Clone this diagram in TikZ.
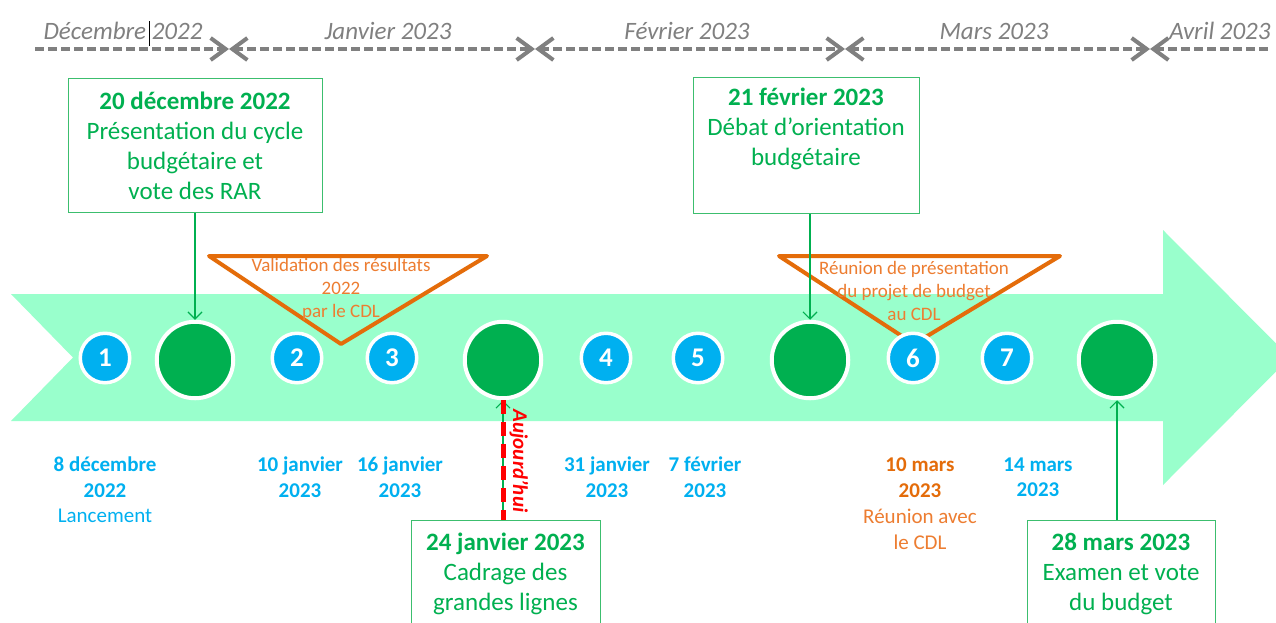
\documentclass[tikz,border=0pt]{standalone}
\usepackage{fontspec}
\setmainfont{Carlito}
\usetikzlibrary{arrows.meta}
\definecolor{mint}{RGB}{153,255,204}
\definecolor{dkgreen}{RGB}{0,176,80}
\definecolor{boxgreen}{RGB}{60,190,110}
\definecolor{skyblue}{RGB}{0,176,240}
\definecolor{orng}{RGB}{228,108,10}
\definecolor{lorng}{RGB}{237,125,49}
\definecolor{gry}{RGB}{128,128,128}
\tikzset{
  month/.style={text=gry, font=\fontsize{25}{30}\selectfont\itshape, inner sep=0pt},
  mseg/.style={draw=gry, line width=4pt, dash pattern=on 9pt off 4pt},
  barb/.tip={Straight Barb[length=15pt,width=22pt,line width=4pt]},
  small/.style={circle, fill=skyblue, draw=white, line width=3.5pt, minimum size=49.5pt, inner sep=0pt,
    text=white, font=\fontsize{27}{30}\selectfont\bfseries},
  big/.style={circle, fill=dkgreen, draw=white, line width=4pt, minimum size=76.5pt, inner sep=0pt},
  evbox/.style={draw=boxgreen, fill=white, line width=1.3pt, inner sep=0pt, anchor=north west},
  evtext/.style={text=dkgreen, align=center, font=\fontsize{25}{30}\selectfont, inner sep=0pt},
  lbl/.style={text=skyblue, align=center, font=\fontsize{21}{25.5}\selectfont, inner sep=0pt},
  olbl/.style={text=lorng, align=center, font=\fontsize{21}{26}\selectfont, inner sep=0pt},
  tri/.style={draw=orng, line width=4pt, line join=round},
  trtext/.style={text=lorng, align=center, font=\fontsize{19}{23}\selectfont, inner sep=0pt},
  conn/.style={draw=dkgreen, line width=1.2pt, -{Straight Barb[length=7pt,width=14pt,line width=1.2pt]}},
}
\begin{document}
\begin{tikzpicture}[x=1pt,y=-1pt]
\useasboundingbox (0,0) rectangle (1276,622);
\clip (0,0) rectangle (1276,622);
\fill[white] (0,0) rectangle (1276,622);

% month bar
\coordinate (m0) at (35,49);
\coordinate (m1) at (229,49);
\coordinate (m2) at (535,49);
\coordinate (m3) at (845,49);
\coordinate (m4) at (1150,49);
\coordinate (m5) at (1272,49);
\draw[mseg, -barb] (m0) -- (m1);
\draw[mseg, barb-barb] (m1) -- (m2);
\draw[mseg, barb-barb] (m2) -- (m3);
\draw[mseg, barb-barb] (m3) -- (m4);
\draw[mseg, barb-] (m4) -- (m5);
\node[month] (dec) at (123,31) {Décembre 2022};
\node[month] (jan) at (388,31) {Janvier 2023};
\node[month] (feb) at (687,31) {Février 2023};
\node[month] (mar) at (994,31) {Mars 2023};
\node[month] (apr) at (1220,31) {Avril 2023};
\draw[black, line width=0.8pt] (149,21) -- (149,46);

% big arrow
\fill[mint] (11,294) -- (1163,294) -- (1163,230) -- (1290,357.5) -- (1163,485)
  -- (1163,421) -- (11,421) -- (73,357.5) -- cycle;

% triangles
\draw[tri] (209,256) -- (487,256) -- (341,344) -- cycle;
\draw[tri] (779,256) -- (1060,256) -- (914,344) -- cycle;
\node[trtext] (tr1) at (341,289) {Validation des résultats\\2022\\par le CDL};
\node[trtext] (tr2) at (914,291) {Réunion de présentation\\du projet de budget\\au CDL};

% circles
\node[small] (c1) at (105,358) {1};
\node[big] (gA) at (195,360) {};
\node[small] (c2) at (297,358) {2};
\node[small] (c3) at (392,358) {3};
\node[big] (gB) at (503,360) {};
\node[small] (c4) at (606,358) {4};
\node[small] (c5) at (698,358) {5};
\node[big] (gC) at (810,360) {};
\node[small] (c6) at (913,358) {6};
\node[small] (c7) at (1007,358) {7};
\node[big] (gD) at (1117,360) {};

% top boxes
\node[evbox, minimum width=254pt, minimum height=134pt] (box1) at (68,78) {};
\node[evtext] (t1) at (195,146) {\textbf{20 décembre 2022}\\Présentation du cycle\\budgétaire et\\vote des RAR};
\node[evbox, minimum width=226pt, minimum height=136pt] (box2) at (693,77) {};
\node[evtext] (t2) at (806,129) {\textbf{21 février 2023}\\Débat d’orientation\\budgétaire};
\draw[conn] (box1.south -| gA) -- (gA.north);
\draw[conn] (box2.south -| gC) -- (gC.north);

% bottom boxes
\node[evbox, minimum width=189pt, minimum height=130pt] (box3) at (411,520) {};
\node[evtext] (t3) at (505.5,574) {\textbf{24 janvier 2023}\\Cadrage des\\grandes lignes};
\node[evbox, minimum width=188pt, minimum height=130pt] (box4) at (1027,520) {};
\node[evtext] (t4) at (1121,574) {\textbf{28 mars 2023}\\Examen et vote\\du budget};
\draw[conn] (box3.north -| gB) -- (gB.south);
\draw[conn] (box4.north -| gD) -- (gD.south);
\draw[red, line width=5pt, dash pattern=on 14pt off 8pt] (gB.south) -- (box3.north -| gB);
\node[rotate=-90, text=red, font=\fontsize{21}{25}\selectfont\bfseries\itshape, inner sep=0pt] (today) at (519,461) {Aujourd’hui};

% date labels
\node[lbl] (l1) at (105,490) {\textbf{8 décembre}\\\textbf{2022}\\Lancement};
\node[lbl] (l2) at (300,477) {\textbf{10 janvier}\\\textbf{2023}};
\node[lbl] (l3) at (400,477) {\textbf{16 janvier}\\\textbf{2023}};
\node[lbl] (l4) at (607,477) {\textbf{31 janvier}\\\textbf{2023}};
\node[lbl] (l5) at (705,477) {\textbf{7 février}\\\textbf{2023}};
\node[olbl] (l6) at (920,504) {\textbf{\color{orng}10 mars}\\\textbf{\color{orng}2023}\\Réunion avec\\le CDL};
\node[lbl] (l7) at (1038,477) {\textbf{14 mars}\\\textbf{2023}};
\end{tikzpicture}
\end{document}
